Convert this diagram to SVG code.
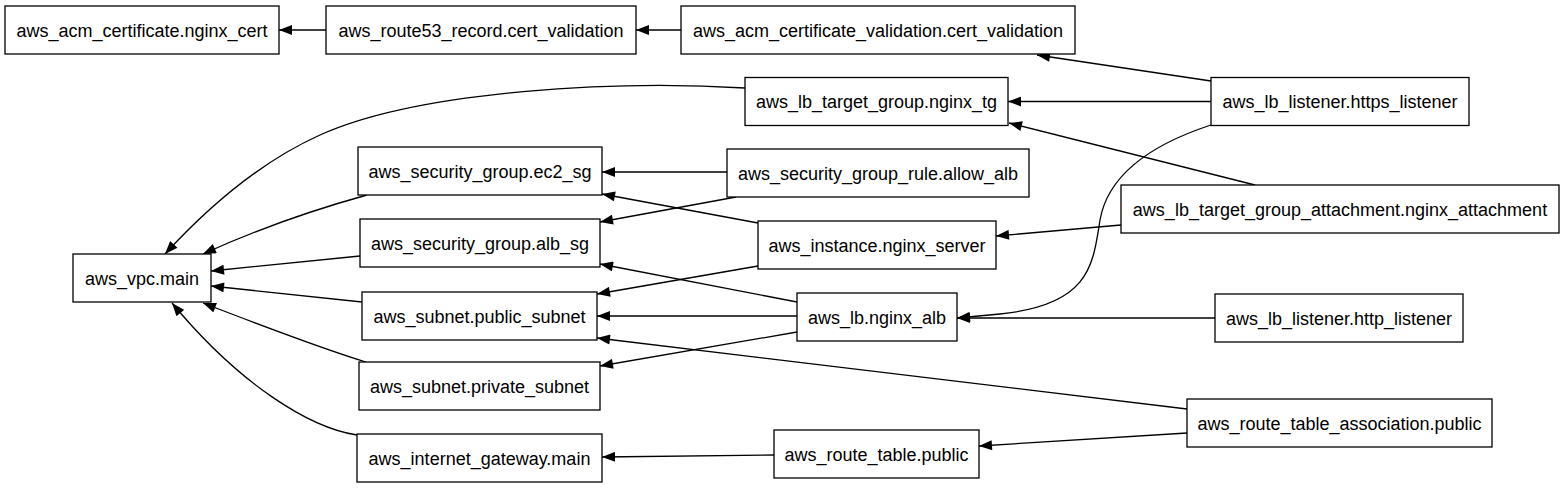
<svg xmlns="http://www.w3.org/2000/svg" width="1564" height="488" viewBox="0 0 1564 488">
<style>
.n rect{fill:#fff;stroke:#000;stroke-width:1.3}
.n text{font-family:"Liberation Sans",Arial,Helvetica,sans-serif;font-size:18px;fill:#000;text-anchor:middle}
#edges path{fill:none;stroke:#000;stroke-width:1.3;marker-end:url(#ah)}
</style>
<defs>
<marker id="ah" markerUnits="userSpaceOnUse" markerWidth="14" markerHeight="10" viewBox="0 0 13 10" refX="13" refY="5" orient="auto">
<path d="M0,0 L13,5 L0,10 z" fill="#000"/>
</marker>
</defs>
<rect width="1564" height="488" fill="#fff"/>
<g id="edges">
<path d="M326,30 L279,30"/>
<path d="M681,30 L636,30"/>
<path d="M1211,81 L1037,55"/>
<path d="M1211,101.5 L1008,101.5"/>
<path d="M1211,125 C1150,145 1108,175 1100,220 C1093,265 1090,305 1000,314 L957,318"/>
<path d="M1255,185 L1009,123"/>
<path d="M1121,225 L996,236"/>
<path d="M727,172 L602,172"/>
<path d="M736,197 L600,222"/>
<path d="M758,223 L602,194"/>
<path d="M758,266 L597,294"/>
<path d="M797,302 L600,264"/>
<path d="M797,316 L597,316"/>
<path d="M797,332 L600,366"/>
<path d="M1215,318 L957,318"/>
<path d="M1187,409 L597,338"/>
<path d="M1187,433 L979,446"/>
<path d="M774,455 L602,457"/>
<path d="M745,88 C620,80 420,90 320,135 C260,162 210,205 165,254"/>
<path d="M367,195 C320,208 260,228 203,254"/>
<path d="M360,256 L211,271"/>
<path d="M362,302 L211,286"/>
<path d="M366,362 C320,348 260,325 203,303"/>
<path d="M357,435 C310,428 240,385 172,303"/>
</g>
<g id="aws_acm_certificate.nginx_cert" class="n"><rect x="5" y="6" width="274" height="48"/><text x="142" y="36.5">aws_acm_certificate.nginx_cert</text></g>
<g id="aws_route53_record.cert_validation" class="n"><rect x="326" y="6" width="310" height="48"/><text x="481" y="36.5">aws_route53_record.cert_validation</text></g>
<g id="aws_acm_certificate_validation.cert_validation" class="n"><rect x="681" y="6" width="394" height="48"/><text x="878" y="36.5">aws_acm_certificate_validation.cert_validation</text></g>
<g id="aws_lb_target_group.nginx_tg" class="n"><rect x="745" y="77.5" width="263" height="48"/><text x="876.5" y="108">aws_lb_target_group.nginx_tg</text></g>
<g id="aws_lb_listener.https_listener" class="n"><rect x="1211" y="77.5" width="258" height="48"/><text x="1340" y="108">aws_lb_listener.https_listener</text></g>
<g id="aws_security_group.ec2_sg" class="n"><rect x="358" y="147" width="244" height="48"/><text x="480" y="177.5">aws_security_group.ec2_sg</text></g>
<g id="aws_security_group_rule.allow_alb" class="n"><rect x="727" y="149" width="302" height="48"/><text x="878" y="179.5">aws_security_group_rule.allow_alb</text></g>
<g id="aws_lb_target_group_attachment.nginx_attachment" class="n"><rect x="1121" y="185" width="438" height="48"/><text x="1340" y="215.5">aws_lb_target_group_attachment.nginx_attachment</text></g>
<g id="aws_security_group.alb_sg" class="n"><rect x="360" y="219" width="240" height="48"/><text x="480" y="249.5">aws_security_group.alb_sg</text></g>
<g id="aws_instance.nginx_server" class="n"><rect x="758" y="221" width="238" height="48"/><text x="877" y="251.5">aws_instance.nginx_server</text></g>
<g id="aws_vpc.main" class="n"><rect x="73" y="254" width="138" height="48"/><text x="142" y="284.5">aws_vpc.main</text></g>
<g id="aws_subnet.public_subnet" class="n"><rect x="362" y="292" width="235" height="48"/><text x="479.5" y="322.5">aws_subnet.public_subnet</text></g>
<g id="aws_lb.nginx_alb" class="n"><rect x="797" y="293" width="160" height="48"/><text x="877" y="323.5">aws_lb.nginx_alb</text></g>
<g id="aws_lb_listener.http_listener" class="n"><rect x="1215" y="294" width="248" height="48"/><text x="1339" y="324.5">aws_lb_listener.http_listener</text></g>
<g id="aws_subnet.private_subnet" class="n"><rect x="359" y="362" width="241" height="48"/><text x="479.5" y="392.5">aws_subnet.private_subnet</text></g>
<g id="aws_route_table_association.public" class="n"><rect x="1187" y="399" width="305" height="48"/><text x="1339.5" y="429.5">aws_route_table_association.public</text></g>
<g id="aws_internet_gateway.main" class="n"><rect x="357" y="434" width="245" height="48"/><text x="479.5" y="464.5">aws_internet_gateway.main</text></g>
<g id="aws_route_table.public" class="n"><rect x="774" y="430" width="205" height="48"/><text x="876.5" y="460.5">aws_route_table.public</text></g>
</svg>
